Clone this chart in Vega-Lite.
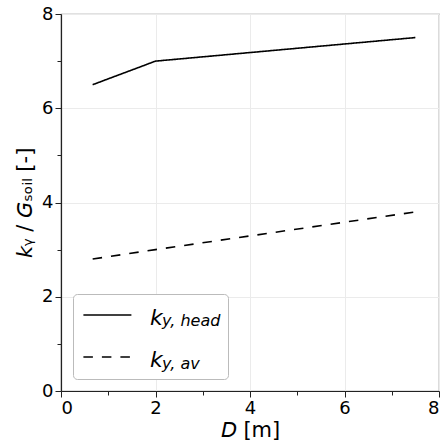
{
  "$schema": "https://vega.github.io/schema/vega-lite/v6.json",
  "width": 378,
  "height": 377,
  "autosize": {"type": "none"},
  "padding": {"left": 61, "top": 14, "right": 3, "bottom": 53},
  "background": "white",
  "data": {
    "values": [
      {"D": 0.67, "k": 6.5, "series": "head", "kk": "kh"},
      {"D": 2.0, "k": 7.0, "series": "head", "kk": "kh"},
      {"D": 7.5, "k": 7.5, "series": "head", "kk": "kh"},
      {"D": 0.67, "k": 2.8, "series": "av", "kk": "ka"},
      {"D": 2.0, "k": 3.0, "series": "av", "kk": "ka"},
      {"D": 7.5, "k": 3.8, "series": "av", "kk": "ka"}
    ]
  },
  "mark": {"type": "line", "strokeWidth": 1.6, "clip": true},
  "encoding": {
    "x": {
      "field": "D", "type": "quantitative",
      "scale": {"domain": [0, 8], "nice": false, "zero": false},
      "axis": {
        "title": "𝘋 [m]",
        "values": [0,0.5,1,1.5,2,2.5,3,3.5,4,4.5,5,5.5,6,6.5,7,7.5,8],
        "format": "d",
        "labelExpr": "datum.value % 2 === 0 ? datum.label : ''",
        "tickSize": {"condition": {"test": "datum.value % 2 === 0", "value": 6}, "value": 4},
        "gridOpacity": {"condition": {"test": "datum.value % 2 === 0", "value": 1}, "value": 0},
        "labelPadding": 2,
        "titlePadding": 2
      }
    },
    "y": {
      "field": "k", "type": "quantitative",
      "scale": {"domain": [0, 8], "nice": false},
      "axis": {
        "title": "𝘬ᵧ / 𝘎ₛₒᵢₗ [-]",
        "values": [0,0.5,1,1.5,2,2.5,3,3.5,4,4.5,5,5.5,6,6.5,7,7.5,8],
        "format": "d",
        "labelExpr": "datum.value % 2 === 0 ? datum.label : ''",
        "tickSize": {"condition": {"test": "datum.value % 2 === 0", "value": 6}, "value": 4},
        "gridOpacity": {"condition": {"test": "datum.value % 2 === 0", "value": 1}, "value": 0},
        "labelPadding": 2,
        "titlePadding": 6
      }
    },
    "color": {
      "field": "kk", "type": "nominal",
      "scale": {"domain": ["kh", "ka"], "range": ["black", "black"]},
      "legend": {
        "title": null,
        "orient": "bottom-left",
        "offset": 12,
        "symbolType": "M-0.8,0H3.2",
        "symbolSize": 576,
        "symbolOpacity": 0,
        "symbolStrokeWidth": 0,
        "labelExpr": "datum.value === 'kh' ? 'y, head\u2003' : 'y, av'",
        "labelFont": "DejaVu Sans",
        "labelFontStyle": "italic",
        "labelFontSize": 16,
        "labelColor": "black",
        "labelBaseline": "top",
        "labelOffset": 58,
        "rowPadding": 15,
        "padding": 7,
        "strokeColor": "#bbbbbb",
        "fillColor": "white",
        "cornerRadius": 4
      }
    },
    "strokeDash": {
      "field": "series", "type": "nominal",
      "scale": {"domain": ["head", "av"], "range": [[1, 0], [9.5, 9]]},
      "legend": {
        "title": null,
        "orient": "none",
        "legendX": 12,
        "legendY": 281,
        "symbolType": "M-0.8,0H3.2",
        "symbolSize": 576,
        "symbolStrokeWidth": 1.6,
        "symbolStrokeColor": "black",
        "symbolFillColor": "transparent",
        "labelExpr": "'k'",
        "labelFont": "DejaVu Sans",
        "labelFontStyle": "italic",
        "labelFontSize": 22,
        "labelColor": "black",
        "labelOffset": 44,
        "rowPadding": 15,
        "padding": 7,
        "encode": {"labels": {"update": {"dy": {"value": 3}}}}
      }
    }
  },
  "config": {
    "view": {"stroke": "#888888", "strokeWidth": 1.2},
    "axis": {
      "labelFont": "DejaVu Sans",
      "labelFontSize": 18,
      "labelColor": "black",
      "titleFont": "DejaVu Sans",
      "titleFontSize": 21,
      "titleFontWeight": "normal",
      "titleColor": "black",
      "domainColor": "#222222",
      "domainWidth": 1.2,
      "tickColor": "#222222",
      "tickWidth": 1,
      "gridColor": "#ebebeb",
      "gridWidth": 1
    }
  }
}
